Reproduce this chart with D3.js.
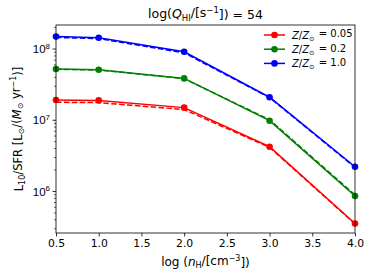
<!DOCTYPE html>
<html><head><meta charset="utf-8">
<script src="https://cdn.jsdelivr.net/npm/d3@7"></script>
<style>body{margin:0;background:#fff}svg{display:block;font-family:"DejaVu Sans",sans-serif}</style>
</head><body><svg id="c" width="374" height="280"></svg>
<script>
const nH = [0.5, 1.0, 2.0, 3.0, 4.0];
const seriesNames = ["0.05", "0.2", "1.0"];
const colors = ["#ff0000", "#008000", "#0000ff"];
const solid005 = [1.89e7, 1.87e7, 1.48e7, 4.18e6, 3.5e5];
const dashed005 = [1.76e7, 1.74e7, 1.39e7, 4.1e6, 3.45e5];
const solid02 = [5.15e7, 5.04e7, 3.81e7, 9.7e6, 8.5e5];
const dashed02 = [5.1e7, 5.0e7, 3.78e7, 1.0e7, 8.8e5];
const solid10 = [1.47e8, 1.42e8, 9.0e7, 2.07e7, 2.19e6];
const dashed10 = [1.43e8, 1.38e8, 8.7e7, 2.05e7, 2.15e6];
const xTicks = [0.5, 1.0, 1.5, 2.0, 2.5, 3.0, 3.5, 4.0];
const yMajor = [1e6, 1e7, 1e8];

const solids = [solid005, solid02, solid10];
const dasheds = [dashed005, dashed02, dashed10];

const svg = d3.select("#c");
const L = 56, R = 355, T = 25, B = 233;
const x = d3.scaleLinear().domain([0.5, 4.0]).range([L, R]);
const y = d3.scaleLog().domain([2.57e5, 2.14e8]).range([B, T]);

const minor = [];
for (let e = 5; e <= 8; e++) for (let m = 2; m <= 9; m++) { const v = m * Math.pow(10, e); if (v >= y.domain()[0] && v <= y.domain()[1]) minor.push(v); }

const g = svg.append("g");
const yAx = g.append("g").attr("transform", `translate(${L},0)`)
  .call(d3.axisLeft(y).tickValues(yMajor).tickSize(3.5).tickPadding(3).tickFormat(() => ""));
yAx.select(".domain").remove();
yAx.selectAll("line").attr("stroke", "#000").attr("stroke-width", 0.8);
const yMin = g.append("g").attr("transform", `translate(${L},0)`)
  .call(d3.axisLeft(y).tickValues(minor).tickSize(2).tickFormat(() => ""));
yMin.select(".domain").remove();
yMin.selectAll("line").attr("stroke", "#000").attr("stroke-width", 0.6);
yAx.selectAll(".tick").each(function(d) {
  const t = d3.select(this).append("text").attr("x", -6).attr("dy", "0.36em")
    .attr("text-anchor", "end").attr("fill", "#000").attr("font-size", 11.5);
  t.append("tspan").text("10");
  t.append("tspan").attr("font-size", 8).attr("dy", "-0.55em").text(Math.round(Math.log10(d)));
});

const xAx = g.append("g").attr("transform", `translate(0,${B})`)
  .call(d3.axisBottom(x).tickValues(xTicks).tickSize(3.5).tickPadding(3).tickFormat(d3.format(".1f")));
xAx.select(".domain").remove();
xAx.selectAll("line").attr("stroke", "#000").attr("stroke-width", 0.8);
xAx.selectAll("text").attr("font-size", 10.8).attr("fill", "#000").attr("font-family", "DejaVu Sans");

const line = d3.line().x((d, i) => x(nH[i])).y(d => y(d));
const plot = svg.append("g");
dasheds.forEach((s, k) => {
  plot.append("path").attr("d", line(s)).attr("fill", "none").attr("stroke", colors[k])
    .attr("stroke-width", 1.5).attr("stroke-dasharray", "5.5,2.4");
});
solids.forEach((s, k) => {
  plot.append("path").attr("d", line(s)).attr("fill", "none").attr("stroke", colors[k]).attr("stroke-width", 1.5);
  plot.selectAll(null).data(s).enter().append("circle")
    .attr("cx", (d, i) => x(nH[i])).attr("cy", d => y(d)).attr("r", 3.3).attr("fill", colors[k]);
});

svg.append("rect").attr("x", L).attr("y", T).attr("width", R - L).attr("height", B - T)
  .attr("fill", "none").attr("stroke", "#000").attr("stroke-width", 0.8);

const lg = svg.append("g");
seriesNames.forEach((n, k) => {
  const yy = 35 + k * 14.2;
  lg.append("line").attr("x1", 264).attr("x2", 285).attr("y1", yy).attr("y2", yy)
    .attr("stroke", colors[k]).attr("stroke-width", 1.5);
  lg.append("circle").attr("cx", 274.5).attr("cy", yy).attr("r", 3.3).attr("fill", colors[k]);
  const t = lg.append("text").attr("x", 292).attr("y", yy).attr("dy", "0.36em").attr("font-size", 10).attr("fill", "#000");
  t.append("tspan").attr("font-style", "italic").text("Z");
  t.append("tspan").text("/");
  t.append("tspan").attr("font-style", "italic").text("Z");
  t.append("tspan").attr("font-size", 6.5).attr("dy", "0.35em").text("⊙");
  t.append("tspan").attr("dy", "-0.35em").attr("dx", 1).text(" = " + n);
});

const tt = svg.append("text").attr("x", (L + R) / 2).attr("y", 18).attr("text-anchor", "middle").attr("font-size", 12.5).attr("fill", "#000");
tt.append("tspan").text("log(");
tt.append("tspan").attr("font-style", "italic").text("Q");
tt.append("tspan").attr("font-size", 8.5).attr("dy", "0.3em").text("HI");
tt.append("tspan").attr("dy", "-0.3em").text("/[s");
tt.append("tspan").attr("font-size", 8.5).attr("dy", "-0.5em").text("−1");
tt.append("tspan").attr("dy", "0.5em").text("]) = 54");

const xl = svg.append("text").attr("x", (L + R) / 2).attr("y", 266).attr("text-anchor", "middle").attr("font-size", 12).attr("fill", "#000");
xl.append("tspan").text("log (");
xl.append("tspan").attr("font-style", "italic").text("n");
xl.append("tspan").attr("font-size", 8).attr("dy", "0.3em").text("H");
xl.append("tspan").attr("dy", "-0.3em").text("/[cm");
xl.append("tspan").attr("font-size", 8).attr("dy", "-0.5em").text("−3");
xl.append("tspan").attr("dy", "0.5em").text("])");

const yl = svg.append("text").attr("transform", `translate(23,${(T + B) / 2}) rotate(-90)`).attr("text-anchor", "middle").attr("font-size", 11.5).attr("fill", "#000");
yl.append("tspan").text("L");
yl.append("tspan").attr("font-size", 8).attr("dy", "0.3em").text("10");
yl.append("tspan").attr("dy", "-0.3em").text("/SFR [L");
yl.append("tspan").attr("font-size", 8).attr("dy", "0.3em").text("⊙");
yl.append("tspan").attr("dy", "-0.3em").text("/(");
yl.append("tspan").attr("font-style", "italic").text("M");
yl.append("tspan").attr("font-size", 8).attr("dy", "0.3em").text("⊙");
yl.append("tspan").attr("dy", "-0.3em").text(" yr");
yl.append("tspan").attr("font-size", 8).attr("dy", "-0.5em").text("−1");
yl.append("tspan").attr("dy", "0.5em").text(")]");
</script></body></html>
